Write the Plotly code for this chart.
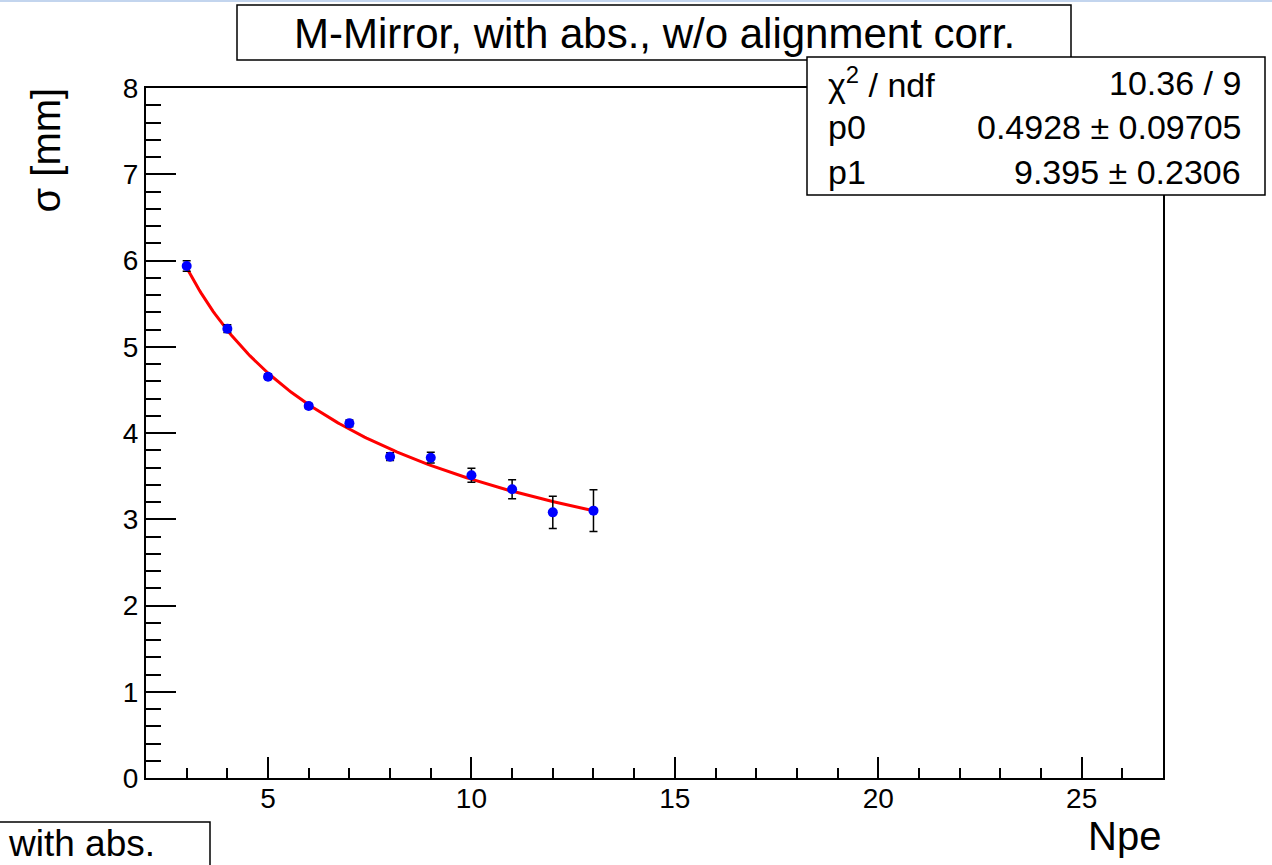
import numpy as np
import plotly.graph_objects as go

# ---- data ----
npe = [3, 4, 5, 6, 7, 8, 9, 10, 11, 12, 13]
sigma = [5.936, 5.209, 4.653, 4.313, 4.112, 3.725, 3.714, 3.51, 3.347, 3.08, 3.10]
sigma_err = [0.06, 0.045, 0.03, 0.03, 0.04, 0.045, 0.062, 0.081, 0.11, 0.186, 0.243]

# fit parameters (sigma = p0 + p1/sqrt(Npe)) as shown in stats box
p0 = 0.4928
p1 = 9.395
stats_labels = ["\u03c7<sup>2</sup> / ndf", "p0", "p1"]
stats_values = ["10.36 / 9", "0.4928 \u00b1 0.09705", "9.395 \u00b1 0.2306"]

title_text = "M-Mirror, with abs., w/o alignment corr."
x_range = [2, 27]
y_range = [0, 8]
x_ticks = [5, 10, 15, 20, 25]
y_ticks = [0, 1, 2, 3, 4, 5, 6, 7, 8]

fit_x = np.linspace(min(npe), max(npe), 200)
fit_y = p0 + p1 / np.sqrt(fit_x)

W, H = 1272, 865
L, R, T, B = 146, 1163, 88, 778
PW, PH = R - L, B - T


def px(x):
    return (x - L) / PW


def py(y):
    return (B - y) / PH


FONT = "Liberation Sans, Arial, Helvetica, sans-serif"
TICKFONT = dict(family=FONT, size=28, color="black")

fig = go.Figure()
fig.add_trace(go.Scatter(x=fit_x, y=fit_y, mode="lines",
                         line=dict(color="#ff0000", width=3), showlegend=False,
                         hoverinfo="skip"))
fig.add_trace(go.Scatter(x=npe, y=sigma, mode="markers",
                         marker=dict(color="#0000ff", size=10),
                         error_y=dict(type="data", array=sigma_err, color="black",
                                      thickness=1.5, width=4),
                         showlegend=False))

xaxis = dict(range=x_range, tickmode="array", tickvals=x_ticks,
             ticktext=[str(v) for v in x_ticks], ticklen=21,
             ticklabelstandoff=-6,
             showline=True, linecolor="black", linewidth=2, mirror=True,
             showgrid=False, zeroline=False, ticks="inside",
             tickcolor="black", tickwidth=1.5, tickfont=TICKFONT,
             minor=dict(ticks="inside", ticklen=10, dtick=1, tick0=0,
                        tickcolor="black", tickwidth=1.5, showgrid=False))
yaxis = dict(range=y_range, tickmode="array", tickvals=y_ticks,
             ticktext=[str(v) for v in y_ticks], ticklen=30,
             showline=True, linecolor="black", linewidth=2, mirror=True,
             showgrid=False, zeroline=False, ticks="inside",
             tickcolor="black", tickwidth=1.5, tickfont=TICKFONT,
             minor=dict(ticks="inside", ticklen=15, dtick=0.2, tick0=0,
                        tickcolor="black", tickwidth=1.5, showgrid=False))

shapes = []
# light blue line at very top
shapes.append(dict(type="line", xref="paper", yref="paper", x0=px(0), x1=px(W),
                   y0=py(1), y1=py(1), line=dict(color="#c3d5ee", width=2)))
# title box
shapes.append(dict(type="rect", xref="paper", yref="paper", x0=px(237), x1=px(1071),
                   y0=py(60), y1=py(5), line=dict(color="black", width=1.5),
                   fillcolor="white"))
# stats box
shapes.append(dict(type="rect", xref="paper", yref="paper", x0=px(807), x1=px(1265),
                   y0=py(195), y1=py(57), line=dict(color="black", width=1.5),
                   fillcolor="white"))
# bottom-left box
shapes.append(dict(type="rect", xref="paper", yref="paper", x0=px(-5), x1=px(210),
                   y0=py(875), y1=py(822), line=dict(color="black", width=1.5),
                   fillcolor="white"))

annotations = []
annotations.append(dict(xref="paper", yref="paper", x=px(654), y=py(33),
                        text=title_text, showarrow=False, xanchor="center",
                        yanchor="middle",
                        font=dict(family=FONT, size=42, color="black")))
row_y = [83, 127, 172]
for lab, val, ry in zip(stats_labels, stats_values, row_y):
    annotations.append(dict(xref="paper", yref="paper", x=px(826), y=py(ry),
                            text=lab, showarrow=False, xanchor="left",
                            yanchor="middle",
                            font=dict(family=FONT, size=34, color="black")))
    annotations.append(dict(xref="paper", yref="paper", x=px(1243), y=py(ry),
                            text=val, showarrow=False, xanchor="right",
                            yanchor="middle",
                            font=dict(family=FONT, size=34, color="black")))
annotations.append(dict(xref="paper", yref="paper", x=px(6), y=py(843),
                        text="with abs.", showarrow=False, xanchor="left",
                        yanchor="middle",
                        font=dict(family=FONT, size=37, color="black")))
annotations.append(dict(xref="paper", yref="paper", x=px(1163), y=py(836),
                        text="Npe", showarrow=False, xanchor="right",
                        yanchor="middle",
                        font=dict(family=FONT, size=40, color="black")))
annotations.append(dict(xref="paper", yref="paper", x=px(46), y=py(86),
                        text="\u03c3 [mm]", showarrow=False, xanchor="center",
                        yanchor="top", textangle=-90,
                        font=dict(family=FONT, size=40, color="black")))

fig.update_layout(width=W, height=H, margin=dict(l=L, r=W - R, t=T, b=H - B),
                  paper_bgcolor="white", plot_bgcolor="white",
                  xaxis=xaxis, yaxis=yaxis,
                  shapes=shapes, annotations=annotations, showlegend=False)

fig.write_html("out.html")
